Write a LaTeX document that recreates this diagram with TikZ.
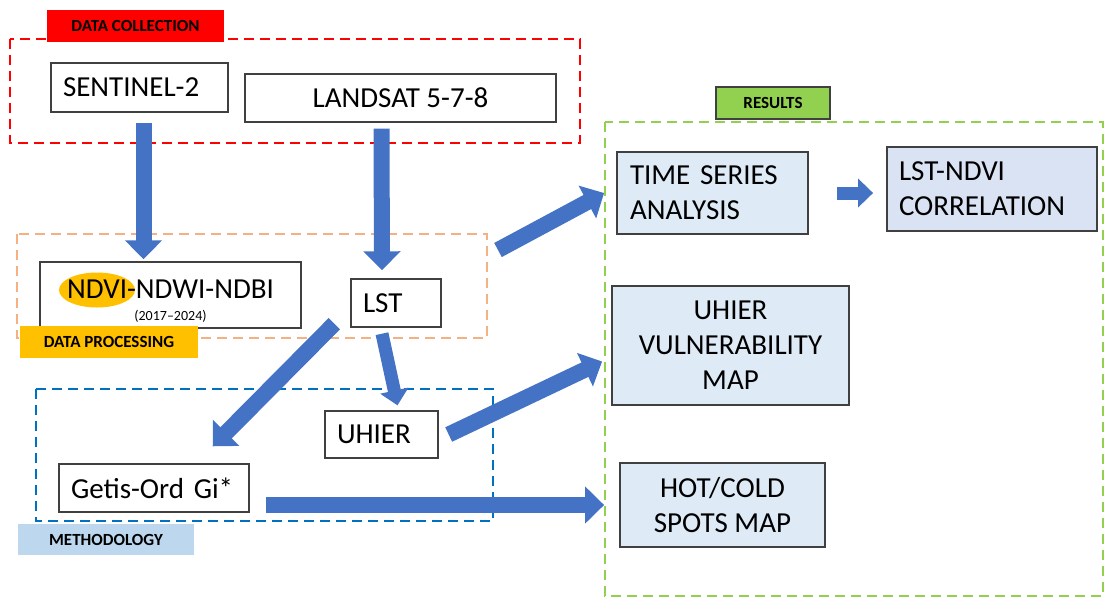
\documentclass[tikz,border=0pt]{standalone}
\usepackage{fontspec}
\setmainfont{Carlito}
\usetikzlibrary{arrows.meta}

\definecolor{arrowblue}{HTML}{4472C4}
\definecolor{boxgrey}{HTML}{404040}
\definecolor{resfill}{HTML}{DEEBF7}
\definecolor{corrfill}{HTML}{DAE3F3}
\definecolor{collectred}{HTML}{FF0000}
\definecolor{procorange}{HTML}{F4B183}
\definecolor{procyellow}{HTML}{FFC000}
\definecolor{methblue}{HTML}{0070C0}
\definecolor{methlight}{HTML}{BDD7EE}
\definecolor{resgreen}{HTML}{92D050}

\begin{document}
\begin{tikzpicture}[x=1pt, y=-1pt,
		box/.style={draw=boxgrey, line width=1.4pt, inner sep=0pt,
			font=\fontsize{29}{35}\selectfont},
		leftbox/.style={box, inner xsep=12pt, align=left},
		resbox/.style={box, line width=1.8pt, fill=resfill},
		frame/.style={line width=2.5pt, dash pattern=on 10pt off 6pt},
		tag/.style={inner sep=0pt, font=\fontsize{17}{20}\selectfont\bfseries},
		bigarrow/.style={arrowblue, line width=16pt, -{Triangle[width=36pt,length=19pt]}},
		smallarrow/.style={arrowblue, line width=13pt, -{Triangle[width=28pt,length=15pt]}}
	]
	\useasboundingbox (0,0) rectangle (1113,606);

	\draw[frame, collectred] (10,39) rectangle (580,143);
	\draw[frame, procorange] (17,234) rectangle (487,338);
	\draw[frame, methblue] (36,389) rectangle (493,521);
	\draw[frame, resgreen] (605,122) rectangle (1103,596);

	\node[leftbox, text width=153pt, minimum height=49pt] (sentinel) at (139.5,87.5) {SENTINEL-2};
	\node[box, minimum width=311pt, minimum height=48pt] (landsat) at (400.5,98) {LANDSAT 5-7-8};
	\fill[procyellow] (97,290) ellipse [x radius=38, y radius=17.5];
	\node[box, align=center, minimum width=261pt, minimum height=66pt] (ndvi) at (170.5,295)
		{\rule{0pt}{30pt}NDVI-NDWI-NDBI\\[-13pt]{\fontsize{14}{16}\selectfont (2017--2024)}};
	\node[leftbox, text width=66pt, minimum height=48pt] (lst) at (396,303) {LST};
	\node[leftbox, text width=89pt, minimum height=47pt] (uhier) at (381.5,434.5) {UHIER};
	\node[leftbox, text width=166pt, minimum height=48pt] (getis) at (154,488) {Getis-Ord Gi*};
	\node[resbox, inner xsep=13pt, align=left, text width=165pt, minimum height=82pt] (ts) at (712.5,193)
		{TIME SERIES\\ANALYSIS};
	\node[resbox, fill=corrfill, inner xsep=12pt, align=left, text width=186pt, minimum height=84pt] (corr) at (992,189)
		{LST-NDVI\\CORRELATION};
	\node[resbox, align=center, minimum width=237pt, minimum height=119pt] (vuln) at (730.5,345.5)
		{UHIER\\VULNERABILITY\\MAP};
	\node[resbox, align=center, minimum width=205pt, minimum height=84pt] (hot) at (722.5,505)
		{HOT/COLD\\SPOTS MAP};

	\coordinate (proctail) at (498,250);

	\draw[bigarrow] ([xshift=4pt,yshift=-10pt]sentinel.south) -- ([xshift=4pt,yshift=2pt]sentinel.south |- ndvi.north);
	\draw[bigarrow] ([xshift=-19pt,yshift=-6pt]landsat.south) -- ([xshift=-14pt,yshift=8pt]lst.north);
	\draw[bigarrow] ([xshift=-16pt,yshift=4pt]lst.south west) -- ([xshift=-37pt,yshift=17pt]getis.north east);
	\draw[smallarrow] ([xshift=-14pt,yshift=-6pt]lst.south) -- ([xshift=16pt,yshift=5pt]uhier.north);
	\draw[bigarrow] ([xshift=10pt]uhier.east) -- ([xshift=-9pt,yshift=-16pt]vuln.west);
	\draw[bigarrow] (proctail) -- ([xshift=-12pt]ts.west);
	\draw[smallarrow] ([xshift=28pt]ts.east) -- ([xshift=-13pt]corr.west |- ts.east);
	\draw[bigarrow] ([xshift=16pt]getis.east |- hot.west) -- ([xshift=-15pt]hot.west);

	\node[tag, fill=collectred, minimum width=177pt, minimum height=32pt] (collectlbl) at (135.5,26) {DATA COLLECTION};
	\node[tag, fill=procyellow, minimum width=178pt, minimum height=32pt] (proclbl) at (109,342) {DATA PROCESSING};
	\node[tag, fill=methlight, minimum width=176pt, minimum height=31pt] (methlbl) at (106,539.5) {METHODOLOGY};
	\node[tag, fill=resgreen, draw=boxgrey, line width=1.4pt, minimum width=114pt, minimum height=32pt] (reslbl) at (773,103) {RESULTS};
\end{tikzpicture}
\end{document}
